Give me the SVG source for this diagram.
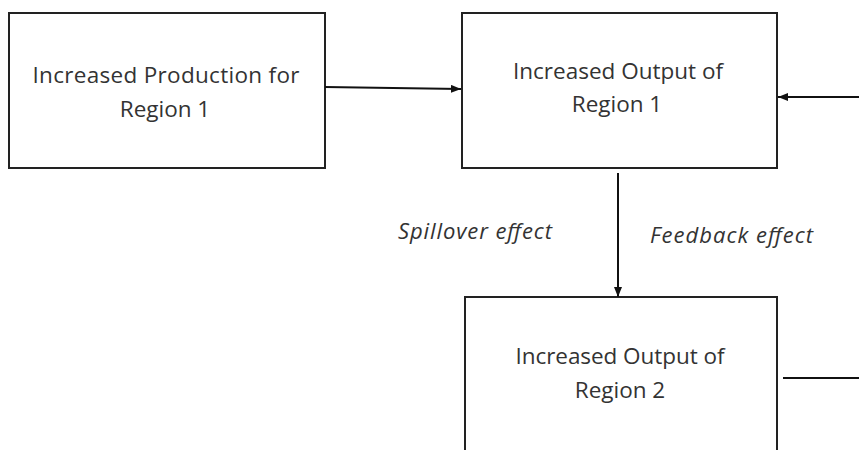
<svg xmlns="http://www.w3.org/2000/svg" width="859" height="450" viewBox="0 0 859 450">
<defs>
<marker id="arr" markerWidth="10" markerHeight="8" refX="10" refY="4" orient="auto" markerUnits="userSpaceOnUse">
<path d="M0,0 L10,4 L0,8 Z" fill="#111"/>
</marker>
<style>
.box{fill:#fff;stroke:#222;stroke-width:2}
.t{font-family:"Open Sans","Liberation Sans",sans-serif;font-size:22.5px;fill:#333;text-anchor:middle}
.lbl{font-family:"Open Sans","Liberation Sans",sans-serif;font-size:22px;font-style:italic;fill:#333}
.c{stroke:#111;stroke-width:2;fill:none}
</style>
</defs>
<rect width="859" height="450" fill="#fff"/>
<g id="node-production">
<rect class="box" x="9" y="13" width="316" height="155"/>
<text class="t" x="166" y="83" textLength="267">Increased Production for</text>
<text class="t" x="165" y="117">Region 1</text>
</g>
<g id="node-output1">
<rect class="box" x="462" y="13" width="315" height="155"/>
<text class="t" x="618" y="79" textLength="210">Increased Output of</text>
<text class="t" x="617" y="112">Region 1</text>
</g>
<g id="node-output2">
<rect class="box" x="465" y="297" width="312" height="170"/>
<text class="t" x="620" y="364" textLength="209">Increased Output of</text>
<text class="t" x="620" y="398">Region 2</text>
</g>
<g id="connectors">
<line class="c" x1="325" y1="87" x2="461" y2="89" marker-end="url(#arr)"/>
<line class="c" x1="859" y1="97" x2="778" y2="97" marker-end="url(#arr)"/>
<line class="c" x1="618" y1="173" x2="618" y2="297" marker-end="url(#arr)"/>
<line class="c" x1="783" y1="378" x2="859" y2="378"/>
</g>
<g id="labels">
<text class="lbl" x="398" y="239" textLength="154">Spillover effect</text>
<text class="lbl" x="650" y="243" textLength="163">Feedback effect</text>
</g>
</svg>
